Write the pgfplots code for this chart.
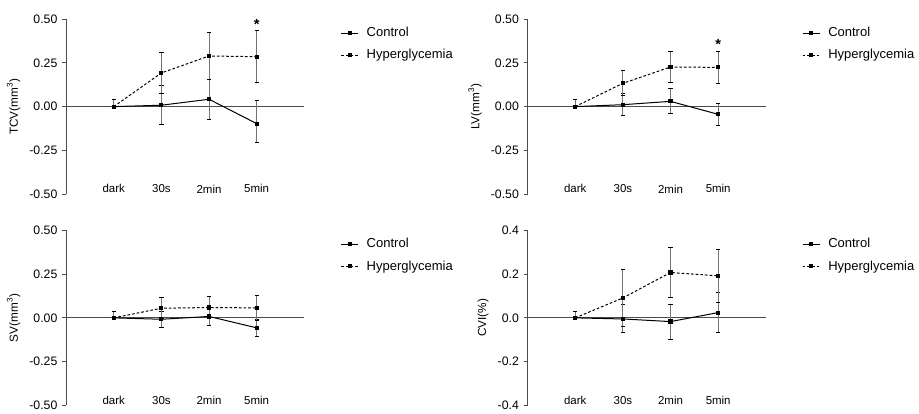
\documentclass[border=0pt]{standalone}
\usepackage{fontspec}
\setmainfont{Liberation Sans}
\usepackage{pgfplots}
\pgfplotsset{compat=1.18}
\usepgfplotslibrary{groupplots}

% 1 px of the reference = 0.75pt
\pgfplotsset{
  panel/.style={
    scale only axis, width=178.5pt, height=131.25pt,
    xmin=-1, xmax=4, ymin=-0.5, ymax=0.5, clip=false,
    axis y line=left, axis x line=bottom,
    x axis line style={draw=none},
    y axis line style={-, black!70, line width=0.75pt},
    xtick={0,1,2,3}, xticklabels={dark,30s,2min,5min},
    major x tick style={draw=none},
    xticklabel style={anchor=center, yshift=7pt, font=\fontsize{8.6}{10}\selectfont},
    ytick={-0.5,-0.25,0,0.25,0.5},
    yticklabel style={font=\fontsize{9.2}{10}\selectfont,
      /pgf/number format/fixed, /pgf/number format/fixed zerofill,
      /pgf/number format/precision=2},
    /pgf/number format/assume math mode=true,
    tick align=outside, major tick length=3pt,
    major y tick style={black!70, line width=0.75pt},
    ylabel style={font=\fontsize{8.8}{10}\selectfont, xshift=0pt},
    legend style={at={(1,1)}, anchor=north west, xshift=24pt, yshift=-2pt,
      draw=none, fill=none, font=\fontsize{9.75}{11}\selectfont,
      cells={anchor=west}, row sep=4pt,
      /tikz/every odd column/.append style={column sep=4pt}},
    legend image code/.code={\draw[mark repeat=2,mark phase=2,#1]
      plot coordinates {(0cm,0cm) (0.225cm,0cm) (0.45cm,0cm)};},
  },
  ctrl/.style={black, line width=0.75pt, mark=square*, mark size=1.2pt,
    mark options={solid},
    /pgfplots/error bars/y dir=both, /pgfplots/error bars/y explicit,
    /pgfplots/error bars/error bar style={black!55, line width=0.75pt, solid},
    /pgfplots/error bars/error mark options={black, rotate=90, mark size=1.6pt,
      line width=0.75pt, solid}},
  hyper/.style={ctrl, /tikz/dash pattern=on 2pt off 1.5pt},
}

\begin{document}
\begin{tikzpicture}
\begin{groupplot}[group style={group name=group, group size=2 by 2,
    horizontal sep=167.25pt, vertical sep=27pt}, panel]

\nextgroupplot[ylabel={TCV(mm\textsuperscript{3})}]
\draw[black!70, line width=0.75pt] (axis cs:-1,0) -- (axis cs:4,0);
\addplot[ctrl] coordinates {(0,0) += (0,0.04) -= (0,0)
  (1,0.008) +- (0,0.111) (2,0.042) +- (0,0.114) (3,-0.097) += (0,0.13) -= (0,0.105)};
\addlegendentry{Control}
\addplot[hyper] coordinates {(0,0) +- (0,0)
  (1,0.192) +- (0,0.116) (2,0.289) +- (0,0.135) (3,0.285) +- (0,0.15)};
\addlegendentry{Hyperglycemia}
\node[font=\bfseries\fontsize{11}{11}\selectfont] at (axis cs:3,0.47) {*};

\nextgroupplot[ylabel={LV(mm\textsuperscript{3})}]
\draw[black!70, line width=0.75pt] (axis cs:-1,0) -- (axis cs:4,0);
\addplot[ctrl] coordinates {(0,0) += (0,0.04) -= (0,0)
  (1,0.011) +- (0,0.064) (2,0.030) +- (0,0.071) (3,-0.044) +- (0,0.062)};
\addlegendentry{Control}
\addplot[hyper] coordinates {(0,0) +- (0,0)
  (1,0.133) +- (0,0.072) (2,0.226) +- (0,0.086) (3,0.224) +- (0,0.093)};
\addlegendentry{Hyperglycemia}
\node[font=\bfseries\fontsize{11}{11}\selectfont] at (axis cs:3,0.355) {*};

\nextgroupplot[ylabel={SV(mm\textsuperscript{3})}]
\draw[black!70, line width=0.75pt] (axis cs:-1,0) -- (axis cs:4,0);
\addplot[ctrl] coordinates {(0,0) += (0,0.035) -= (0,0)
  (1,-0.008) +- (0,0.047) (2,0.008) +- (0,0.05) (3,-0.057) +- (0,0.048)};
\addlegendentry{Control}
\addplot[hyper] coordinates {(0,0) +- (0,0)
  (1,0.055) +- (0,0.06) (2,0.059) +- (0,0.063) (3,0.057) +- (0,0.07)};
\addlegendentry{Hyperglycemia}

\nextgroupplot[ylabel={CVI(\%)}, ymin=-0.4, ymax=0.4,
  ytick={-0.4,-0.2,0,0.2,0.4},
  yticklabel style={/pgf/number format/precision=1}]
\draw[black!70, line width=0.75pt] (axis cs:-1,0) -- (axis cs:4,0);
\addplot[ctrl] coordinates {(0,0) += (0,0.03) -= (0,0)
  (1,-0.005) +- (0,0.064) (2,-0.017) +- (0,0.08) (3,0.024) +- (0,0.093)};
\addlegendentry{Control}
\addplot[hyper] coordinates {(0,0) +- (0,0)
  (1,0.091) +- (0,0.131) (2,0.207) +- (0,0.116) (3,0.192) +- (0,0.12)};
\addlegendentry{Hyperglycemia}
\end{groupplot}
\pgfresetboundingbox
\path[use as bounding box] ([xshift=-49.5pt, yshift=14.25pt]group c1r1.north west)
  rectangle ([xshift=114.75pt, yshift=-6pt]group c2r2.south east);
\end{tikzpicture}
\end{document}
